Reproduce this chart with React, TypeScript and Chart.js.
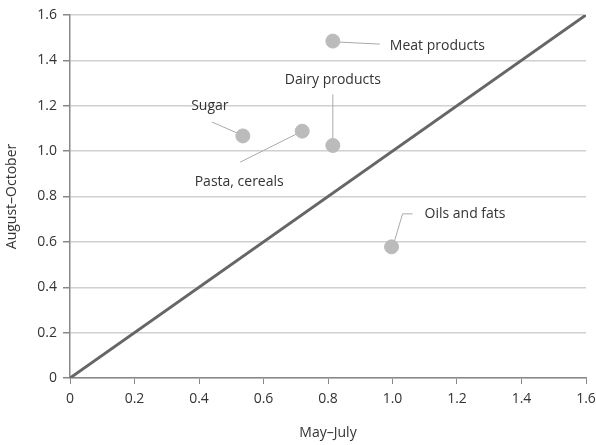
import React, { useEffect, useRef } from "react";
import { Chart, registerables } from "chart.js";

Chart.register(...registerables);

const labels = ["Sugar", "Pasta, cereals", "Dairy products", "Meat products", "Oils and fats"];
const mayJuly = [0.536, 0.72, 0.815, 0.815, 0.997];
const augOct = [1.067, 1.088, 1.025, 1.485, 0.578];
const diagX = [0, 1.6];
const diagY = [0, 1.6];
const tickValues = [0, 0.2, 0.4, 0.6, 0.8, 1.0, 1.2, 1.4, 1.6];

// leader lines (pixel offsets from point) and text anchors
const callouts = [
  { line: [[-31, -14], [-6, -3]], text: [-33, -30], align: "center" },
  { line: [[-62, 31], [-6, 3]], text: [-63, 51], align: "center" },
  { line: [[0, -51], [0, -7]], text: [0, -65], align: "center" },
  { line: [[6, 1], [47, 3]], text: [57, 5], align: "left" },
  { line: [[3, -6], [11, -33], [21, -33]], text: [33, -33], align: "left" },
];

const FONT = "'Open Sans', sans-serif";

export default function App() {
  const ref = useRef<HTMLCanvasElement>(null);
  useEffect(() => {
    const canvas = ref.current!;
    const calloutPlugin = {
      id: "callouts",
      beforeDatasetsDraw(chart: any) {
        const ctx = chart.ctx;
        const xs = chart.scales.x, ys = chart.scales.y;
        ctx.save();
        ctx.strokeStyle = "#aaaaaa";
        ctx.lineWidth = 1;
        callouts.forEach((c, i) => {
          const px = xs.getPixelForValue(mayJuly[i]);
          const py = ys.getPixelForValue(augOct[i]);
          ctx.beginPath();
          c.line.forEach((p, j) => {
            if (j === 0) ctx.moveTo(px + p[0], py + p[1]);
            else ctx.lineTo(px + p[0], py + p[1]);
          });
          ctx.stroke();
        });
        ctx.restore();
      },
      afterDatasetsDraw(chart: any) {
        const ctx = chart.ctx;
        const xs = chart.scales.x, ys = chart.scales.y;
        ctx.save();
        ctx.fillStyle = "#333333";
        ctx.font = `14px ${FONT}`;
        ctx.textBaseline = "middle";
        callouts.forEach((c, i) => {
          const px = xs.getPixelForValue(mayJuly[i]);
          const py = ys.getPixelForValue(augOct[i]);
          ctx.textAlign = c.align;
          ctx.fillText(labels[i], px + c.text[0], py + c.text[1]);
        });
        ctx.restore();
      },
    };
    const chart = new Chart(canvas, {
      type: "scatter",
      data: {
        datasets: [
          {
            type: "line",
            data: diagX.map((x, i) => ({ x, y: diagY[i] })),
            borderColor: "#666666",
            borderWidth: 3,
            pointRadius: 0,
            fill: false,
            order: 2,
          } as any,
          {
            data: mayJuly.map((x, i) => ({ x, y: augOct[i] })),
            backgroundColor: "#bbbbbb",
            borderColor: "#bbbbbb",
            pointRadius: 7,
            pointHoverRadius: 7,
            order: 1,
          },
        ],
      },
      options: {
        responsive: false,
        animation: false,
        layout: { padding: { top: 15, right: 10, left: 0, bottom: 0 } },
        plugins: { legend: { display: false }, tooltip: { enabled: false } },
        scales: {
          x: {
            type: "linear",
            min: 0,
            max: 1.6,
            afterBuildTicks: (s: any) => { s.ticks = tickValues.map((v) => ({ value: v })); },
            afterFit: (s: any) => { s.height = 67; s.paddingRight = 0; s.paddingLeft = 0; },
            ticks: {
              color: "#333333",
              font: { family: FONT, size: 14 },
              padding: 7,
              callback: (v: any) => (v === 0 ? "0" : Number(v).toFixed(1)),
            },
            grid: { drawOnChartArea: false, drawTicks: true, tickLength: 6, tickColor: "#888888" },
            border: { color: "#888888", width: 1.5 },
            title: { display: true, text: "May–July", color: "#333333", font: { family: FONT, size: 14 }, padding: { top: 9 } },
          },
          y: {
            type: "linear",
            min: 0,
            max: 1.6,
            afterBuildTicks: (s: any) => { s.ticks = tickValues.map((v) => ({ value: v })); },
            afterFit: (s: any) => { s.width = 70; s.paddingTop = 0; s.paddingBottom = 0; },
            ticks: {
              color: "#333333",
              font: { family: FONT, size: 14 },
              padding: 6,
              callback: (v: any) => (v === 0 ? "0" : Number(v).toFixed(1)),
            },
            grid: { color: "#d0d0d0", lineWidth: 1.5, tickLength: 7, tickColor: "#888888" },
            border: { color: "#888888", width: 1.5 },
            title: { display: true, text: "August–October", color: "#333333", font: { family: FONT, size: 14 }, padding: { bottom: 2 } },
          },
        },
      },
      plugins: [calloutPlugin],
    });
    return () => chart.destroy();
  }, []);
  return (
    <div style={{ position: "absolute", left: 0, top: 0, width: 596, height: 445, background: "#fff" }}>
      <canvas ref={ref} width={596} height={445} />
    </div>
  );
}
